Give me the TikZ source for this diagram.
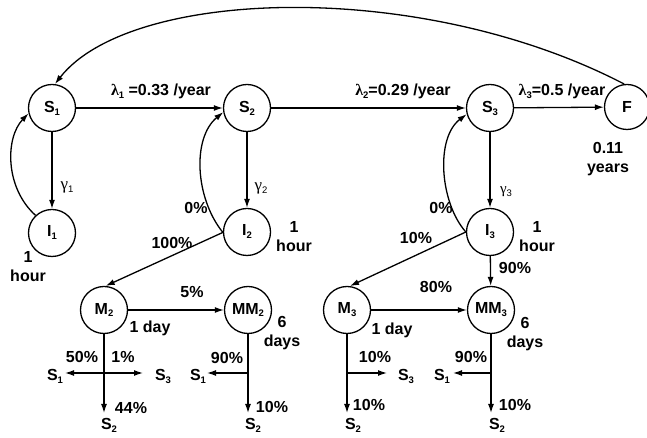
\documentclass[tikz,border=0pt]{standalone}
\usepackage{fontspec}
\setmainfont{Liberation Sans}
\newfontfamily\grkfont{Liberation Serif}
\usetikzlibrary{arrows.meta}
\newcommand{\ix}[1]{\raisebox{-3pt}{\fontsize{9.5}{9.5}\selectfont #1}}
\newcommand{\lam}{{\grkfont\bfseries λ}}
\newcommand{\gam}{{\grkfont γ}}
\begin{document}
\begin{tikzpicture}[x=1pt,y=1pt,
  st/.style={circle,draw,line width=1.3pt,minimum size=47pt,inner sep=0pt,font=\fontsize{16}{16}\selectfont\bfseries},
  lbl/.style={inner sep=0pt,align=center,font=\fontsize{16}{19}\selectfont\bfseries},
  arr/.style={line width=1.3pt,-{Latex[length=9pt,width=6pt]}},
  darr/.style={line width=1.3pt,{Latex[length=9pt,width=6pt]}-{Latex[length=9pt,width=6pt]}},
  ln/.style={line width=1.3pt}]
\useasboundingbox (0,0) rectangle (647,438);
% states
\node[st] (S1) at (52,330) {S\ix{1}};
\node[st] (S2) at (247,330) {S\ix{2}};
\node[st] (S3) at (490,330) {S\ix{3}};
\node[st,minimum size=45pt] (F) at (627,331) {F};
\node[st] (I1) at (52,205) {I\ix{1}};
\node[st] (I2) at (247,206) {I\ix{2}};
\node[st] (I3) at (490,206) {I\ix{3}};
\node[st] (M2) at (104,128) {M\ix{2}};
\node[st] (MM2) at (248,128) {MM\ix{2}};
\node[st] (M3) at (347,128) {M\ix{3}};
\node[st] (MM3) at (491,128) {MM\ix{3}};
% top row
\draw[arr] (S1) -- (S2);
\draw[arr] (S2) -- (S3);
\draw[arr] (S3) -- (F);
\node[lbl] (l1) at (161,347) {\lam\ix{1} =0.33 /year};
\node[lbl] (l2) at (403,347) {\lam\ix{2}=0.29 /year};
\node[lbl] (l3) at (562,347) {\lam\ix{3}=0.5 /year};
\node[lbl] (ft) at (608,279) {0.11\\years};
\draw[arr] (F.97) .. controls (420,460) and (130,450) .. (S1.83);
% S -> I
\draw[arr] (S1) -- (I1);
\draw[arr] (S2) -- (I2);
\draw[arr] (S3) -- (I3);
\node[inner sep=0pt,font=\fontsize{17}{17}\selectfont] (g1) at (67,251) {\gam\ix{1}};
\node[inner sep=0pt,font=\fontsize{17}{17}\selectfont] (g2) at (261,250) {\gam\ix{2}};
\node[inner sep=0pt,font=\fontsize{15}{15}\selectfont] (g3) at (506,246) {\gam\ix{3}};
% loops
\draw[arr] (I1.133) .. controls (5,250) and (5,300) .. (S1.193);
\draw[arr] (I2.181) .. controls (195,240) and (192,300) .. (S2.190);
\draw[arr] (I3.180) .. controls (440,235) and (435,300) .. (S3.195);
\node[lbl] (p0a) at (196,230) {0\%};
\node[lbl] (p0b) at (441,230) {0\%};
% I labels
\node[lbl] (h1) at (28,171) {1\\hour};
\node[lbl] (h2) at (294,201) {1\\hour};
\node[lbl] (h3) at (537,201) {1\\hour};
% I -> M
\draw[arr] (I2.181) -- (M2.86);
\draw[arr] (I3.180) -- (M3.83);
\draw[arr] (I3) -- (MM3);
\node[lbl] (p100) at (172,195) {100\%};
\node[lbl] (p10a) at (416,200) {10\%};
\node[lbl] (p90a) at (515,170) {90\%};
% M -> MM
\draw[arr] (M2) -- (MM2);
\draw[arr] (M3) -- (MM3);
\node[lbl] (p5) at (192,146) {5\%};
\node[lbl] (p80) at (436,151) {80\%};
\node[lbl] (d1a) at (150,110) {1 day};
\node[lbl] (d1b) at (392,108) {1 day};
\node[lbl] (d6a) at (282,105) {6\\days};
\node[lbl] (d6b) at (525,104) {6\\days};
% bottom of M2
\coordinate (jA) at (104,65);
\coordinate (tA) at (104,25);
\coordinate (aL) at (65,65);
\coordinate (aR) at (143,65);
\draw[arr] (M2) -- (tA);
\draw[darr] (aL) -- (aR);
\node[lbl] (sA1) at (55,62) {S\ix{1}};
\node[lbl] (sA3) at (163,62) {S\ix{3}};
\node[lbl] (sA2) at (109,13) {S\ix{2}};
\node[lbl] (pA50) at (82,81) {50\%};
\node[lbl] (pA1) at (123,81) {1\%};
\node[lbl] (pA44) at (131,30) {44\%};
% bottom of MM2
\coordinate (jB) at (248,65);
\coordinate (tB) at (248,25);
\coordinate (aB) at (207,65);
\draw[arr] (MM2) -- (tB);
\draw[arr] (jB) -- (aB);
\node[lbl] (sB1) at (198,62) {S\ix{1}};
\node[lbl] (sB2) at (253,13) {S\ix{2}};
\node[lbl] (pB90) at (227,80) {90\%};
\node[lbl] (pB10) at (272,31) {10\%};
% bottom of M3
\coordinate (jC) at (347,65);
\coordinate (tC) at (347,25);
\coordinate (aC) at (387,65);
\draw[arr] (M3) -- (tC);
\draw[arr] (jC) -- (aC);
\node[lbl] (sC3) at (406,62) {S\ix{3}};
\node[lbl] (sC2) at (353,13) {S\ix{2}};
\node[lbl] (pC10a) at (375,81) {10\%};
\node[lbl] (pC10b) at (369,33) {10\%};
% bottom of MM3
\coordinate (jD) at (491,65);
\coordinate (tD) at (491,25);
\coordinate (aD) at (453,65);
\draw[arr] (MM3) -- (tD);
\draw[arr] (jD) -- (aD);
\node[lbl] (sD1) at (442,62) {S\ix{1}};
\node[lbl] (sD2) at (497,13) {S\ix{2}};
\node[lbl] (pD90) at (471,81) {90\%};
\node[lbl] (pD10) at (515,33) {10\%};
\end{tikzpicture}
\end{document}
